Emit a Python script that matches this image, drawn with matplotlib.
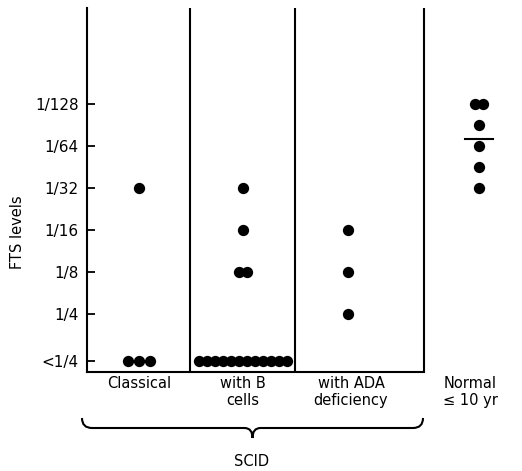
import numpy as np
import matplotlib
matplotlib.use("Agg")
import matplotlib.pyplot as plt
from matplotlib.path import Path
from matplotlib.patches import PathPatch

# ---- data ----
groups = ["Classical", "with B\ncells", "with ADA\ndeficiency", "Normal\n\u2264 10 yr"]
tick_labels = ["<1/4", "1/4", "1/8", "1/16", "1/32", "1/64", "1/128"]
tick_pos = [0.88, 2, 3, 4, 5, 6, 7]  # log2 of titre denominator; "<1/4" placed below

classical = [5, 0.88, 0.88, 0.88]
b_cells = [5, 4, 3, 3] + [0.88] * 12
ada = [4, 3, 2]
normal = [7, 7, 6.5, 6, 5.5, 5]
series = [classical, b_cells, ada, normal]

# ---- layout (x units ~ pixels from left spine) ----
W, H = 522, 471
fig = plt.figure(figsize=(W / 100, H / 100), dpi=100)
ax_left, ax_right, ax_top, ax_bot = 87, 522, 8, 372
ax = fig.add_axes([ax_left / W, 1 - ax_bot / H, (ax_right - ax_left) / W, (ax_bot - ax_top) / H])

edges = [0, 103, 208, 337]
centers = [52, 156, 261, 392]
spacing = [11, 8, 10, 8]

ax.set_xlim(0, ax_right - ax_left)
ax.set_ylim(2 - (ax_bot - 314) / 42, 7 + (104 - ax_top) / 42)

for vals, c, sp in zip(series, centers, spacing):
    vals = np.array(vals, dtype=float)
    xs = np.zeros_like(vals)
    for v in np.unique(vals):
        idx = np.where(vals == v)[0]
        n = len(idx)
        xs[idx] = c + (np.arange(n) - (n - 1) / 2) * sp
    ax.scatter(xs, vals, s=66, color="black", zorder=3, linewidths=0, clip_on=False)

# mean line for normal group
ax.plot([centers[3] - 14, centers[3] + 14], [np.mean(normal)] * 2, color="black", lw=1.5)

# frame
for sp_name in ["top", "right"]:
    ax.spines[sp_name].set_visible(False)
ax.spines["left"].set_linewidth(1.5)
ax.spines["bottom"].set_linewidth(1.5)
ax.spines["bottom"].set_bounds(0, edges[3])
for e in edges[1:]:
    ax.axvline(e, color="black", lw=1.5)

ax.set_xticks([])
ax.set_yticks(tick_pos)
ax.set_yticklabels(tick_labels, fontsize=11)
ax.tick_params(axis="y", direction="in", length=6, width=1.3, pad=6)

fig.text(18 / W, 1 - 232 / H, "FTS levels", rotation=90, ha="center", va="center", fontsize=10.5)

label_x = [139, 243, 351, 470]
for lab, x in zip(groups, label_x):
    fig.text(x / W, 1 - 376 / H, lab, ha="center", va="top", fontsize=10.5,
             linespacing=1.15, multialignment="center")

# brace under SCID groups
def brace(x0, x1, ytop, ymid, ytip):
    xm = (x0 + x1) / 2
    pts = [(x0, ytop), (x0, ymid), (x0 + 10, ymid),
           (xm - 8, ymid), (xm, ymid), (xm, ytip),
           (xm, ymid), (xm + 8, ymid),
           (x1 - 10, ymid), (x1, ymid), (x1, ytop)]
    codes = [Path.MOVETO, Path.CURVE3, Path.CURVE3,
             Path.LINETO, Path.CURVE3, Path.CURVE3,
             Path.CURVE3, Path.CURVE3,
             Path.LINETO, Path.CURVE3, Path.CURVE3]
    pts = [(x / W, 1 - y / H) for x, y in pts]
    p = PathPatch(Path(pts, codes), transform=fig.transFigure, fill=False, lw=1.5, color="black")
    fig.patches.append(p)

brace(82, 423, 418, 428, 438)
fig.text(252 / W, 1 - 461 / H, "SCID", ha="center", va="center", fontsize=10.5)

fig.savefig("out.png", dpi=100)
